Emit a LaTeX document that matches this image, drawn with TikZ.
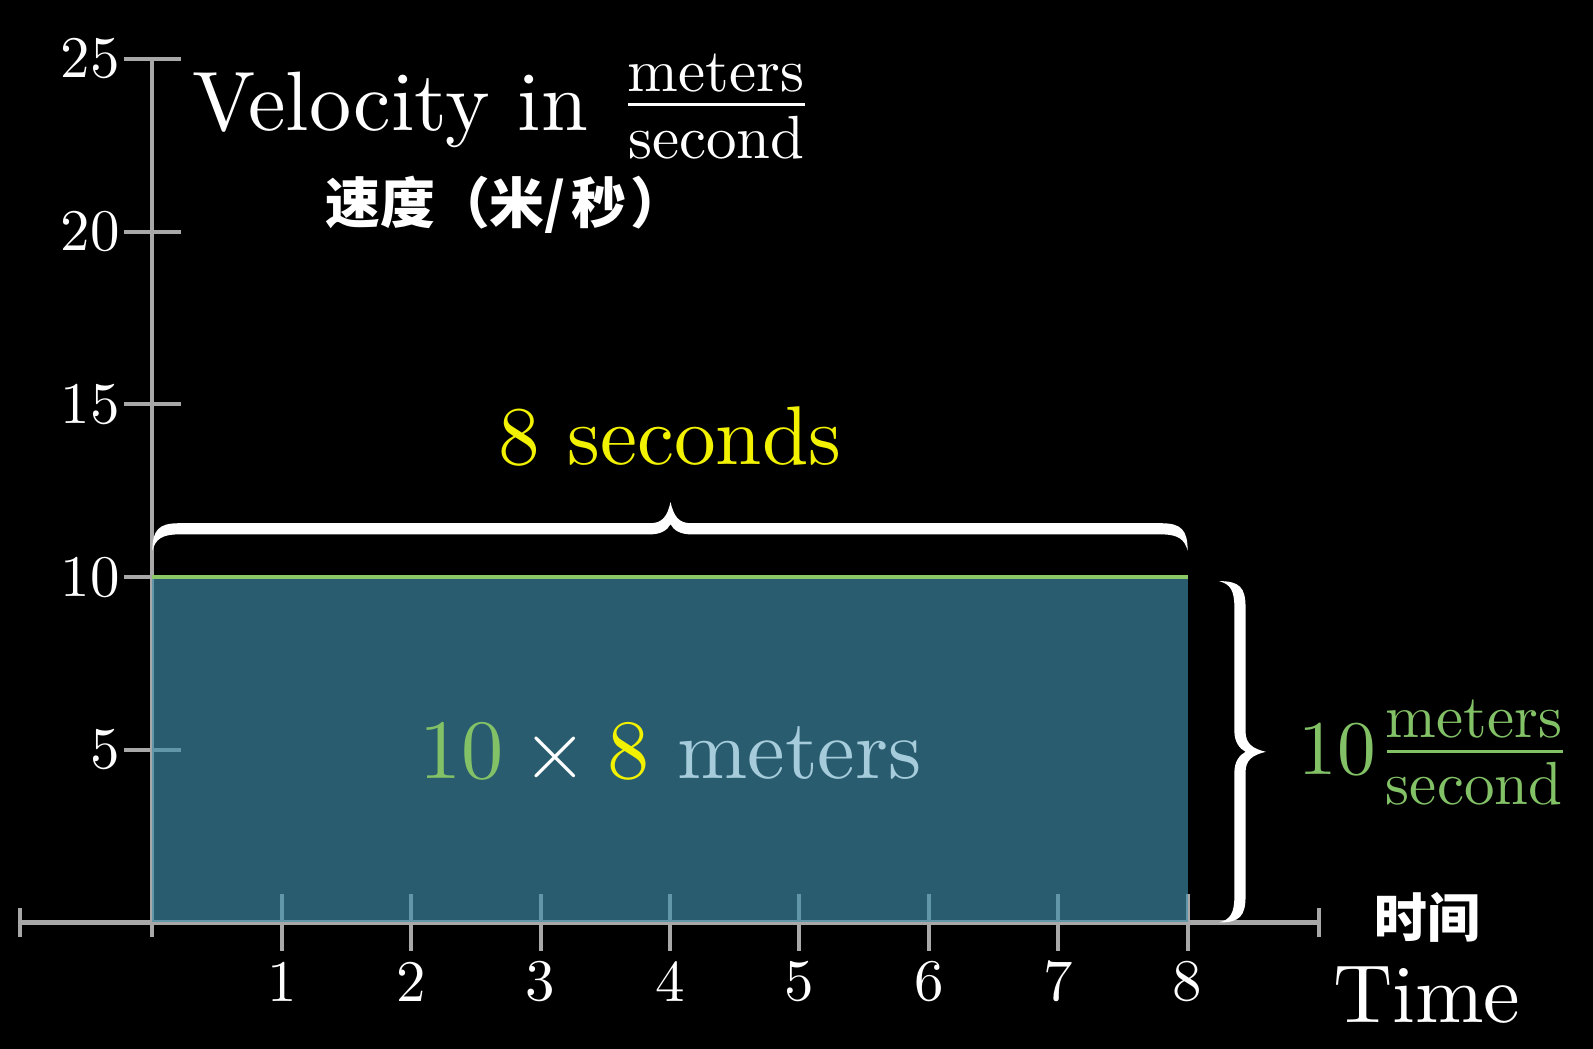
\documentclass[tikz,border=0pt]{standalone}
\usepackage{fontspec}
\setmainfont{lmroman10-regular.otf}
\newfontfamily\cjk{Noto Sans CJK SC}
\definecolor{axgray}{HTML}{A8A8A8}
\definecolor{rectc}{HTML}{3E8EAA}
\definecolor{grn}{HTML}{83C167}
\definecolor{grnline}{HTML}{8CC866}
\definecolor{yel}{HTML}{F2F200}
\definecolor{mcol}{HTML}{A6CCDC}
\begin{document}
\begin{tikzpicture}[x=1pt,y=-1pt,
  axis/.style={draw=axgray,line width=4pt},
  lbl/.style={text=white,font=\fontsize{58}{60}\selectfont,inner sep=0pt},
  txt/.style={inner sep=0pt,anchor=base west},
  fracbar/.style={line width=3pt}]
\fill[black] (0,0) rectangle (1568,1032.5);
\useasboundingbox (0,0) rectangle (1568,1032.5);
% axes
\coordinate (xl) at (20,908);
\coordinate (xr) at (1298,908);
\coordinate (o) at (150,908);
\coordinate (ytop) at (150,58);
\draw[axis] (xl) -- (xr);
\draw[axis] (o) -- (ytop);
\foreach \x in {20,150,1298} \draw[axis] (\x,894) -- (\x,922);
\foreach \i in {1,...,8} {
  \draw[axis] ({150+127.375*\i},880) -- ({150+127.375*\i},936);
  \node[lbl] (xlab\i) at ({150+127.375*\i},966) {\i};
}
\foreach \v in {5,10,15,20,25} {
  \draw[axis] (122,{908-34*\v}) -- (178,{908-34*\v});
  \node[lbl,anchor=east] (ylab\v) at (118,{908-34*\v}) {\v};
}
% area
\fill[rectc,fill opacity=0.65] (150,568) rectangle (1169,908);
\draw[grnline,line width=4pt] (150,568) -- (1169,568);
% top brace
\fill[white] (150,542) .. controls (150,522) and (156,515) .. (176,515) -- (640,515)
  .. controls (652,515) and (657,508) .. (660,494) .. controls (663,508) and (668,515) .. (680,515)
  -- (1143,515) .. controls (1163,515) and (1169,522) .. (1169,542)
  .. controls (1166,531) and (1160,526) .. (1143,526) -- (680,526)
  .. controls (670,526) and (663,522) .. (660,516) .. controls (657,522) and (650,526) .. (640,526)
  -- (176,526) .. controls (159,526) and (153,531) .. (150,542) -- cycle;
% right brace
\fill[white] (1200,572) .. controls (1220,572) and (1226,578) .. (1226,598) -- (1226,720)
  .. controls (1226,732) and (1233,737) .. (1246,740) .. controls (1233,743) and (1226,748) .. (1226,760)
  -- (1226,882) .. controls (1226,902) and (1220,908) .. (1200,908)
  .. controls (1211,905) and (1215,899) .. (1215,882) -- (1215,760)
  .. controls (1215,750) and (1220,743) .. (1226,740) .. controls (1220,737) and (1215,730) .. (1215,720)
  -- (1215,598) .. controls (1215,581) and (1211,575) .. (1200,572) -- cycle;
% texts
\node[txt,text=white,font=\fontsize{83}{90}\selectfont] (vel) at (189,128) {Velocity in};
\node[txt,anchor=base,text=white,font=\fontsize{60}{66}\selectfont] (vnum) at (705,90) {meters};
\node[txt,anchor=base,text=white,font=\fontsize{60}{66}\selectfont] (vden) at (705,156) {second};
\draw[white,fracbar] (618,103) -- (792,103);
\node[inner sep=0pt,anchor=west,text=white,font=\cjk\bfseries\fontsize{54}{58}\selectfont] (sudu) at (320,202) {速度（米/\hspace{6pt}秒\hspace{4pt}）};
\node[txt,text=yel,font=\fontsize{82}{90}\selectfont] (sec) at (490,457) {8 seconds};
\node[txt,text=white,font=\fontsize{83}{90}\selectfont] (prod) at (413,766)
  {\textcolor{grn}{10}\hspace{0.222em}×\hspace{0.222em}\textcolor{yel}{8} \textcolor{mcol}{meters}};
\node[txt,text=grn,font=\fontsize{76}{80}\selectfont] (ten) at (1278,762) {10};
\node[txt,anchor=base,text=grn,font=\fontsize{60}{66}\selectfont] (rnum) at (1451,726) {meters};
\node[txt,anchor=base,text=grn,font=\fontsize{60}{66}\selectfont] (rden) at (1451,792) {second};
\draw[grn,fracbar] (1365,740) -- (1538,740);
\node[inner sep=0pt,text=white,font=\cjk\bfseries\fontsize{52}{56}\selectfont] (shijian) at (1405,903) {时间};
\node[txt,text=white,font=\fontsize{81}{90}\selectfont] (time) at (1312,1006) {Time};
\end{tikzpicture}
\end{document}
